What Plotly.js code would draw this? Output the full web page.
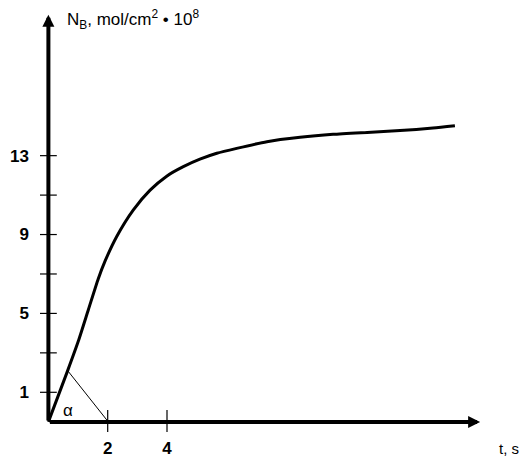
<!DOCTYPE html>
<html>
<head>
<meta charset="utf-8">
<script src="https://cdn.plot.ly/plotly-3.0.1.min.js"></script>
<style>html,body{margin:0;padding:0;background:#fff;}#chart{width:525px;height:457px;}</style>
</head>
<body>
<div id="chart"></div>
<script>
// Curve N_B(t)
const tValues = [0, 0.65, 1.01, 1.35, 1.68, 1.91, 2.30, 2.86, 3.43, 3.99, 4.55, 5.11, 5.68, 6.35, 7.37, 8.49, 9.60, 10.75, 11.86, 12.97, 13.71];
const nValues = [-0.5, 2.10, 3.60, 5.20, 6.75, 7.65, 8.89, 10.24, 11.25, 11.96, 12.44, 12.82, 13.12, 13.37, 13.71, 13.93, 14.08, 14.18, 14.27, 14.40, 14.52];
// Line drawn from the curve to the t axis (angle alpha)
const alphaT = [0.65, 2.02];
const alphaN = [2.10, -0.5];
// Axes
const originT = 0, originN = -0.5;
const xAxisEnd = 14.56, yAxisEnd = 20.15;
// Ticks
const yTickLabels = [1, 5, 9, 13];
const yTickMarks = [1, 3, 5, 7, 9, 11, 13];
const xTickLabels = [2, 4];
const xTickMarks = [2, 4];
const yTitle = 'N<sub>B</sub>, mol/cm<sup>2</sup> • 10<sup>8</sup>';
const xTitle = 't, s';
const alphaLabel = 'α';

const FONT = 'Liberation Sans, Arial, sans-serif';

const traces = [
  {x: tValues, y: nValues, mode: 'lines', line: {color: '#000', width: 3, shape: 'spline', smoothing: 0.6}, hoverinfo: 'skip'},
  {x: alphaT, y: alphaN, mode: 'lines', line: {color: '#000', width: 1}, hoverinfo: 'skip'},
  {x: yTickMarks.map(() => originT), y: yTickMarks, mode: 'markers',
   marker: {symbol: 'line-ew', size: 12, line: {width: 1.2, color: '#000'}}, hoverinfo: 'skip'},
  {x: xTickMarks, y: xTickMarks.map(() => originN), mode: 'markers',
   marker: {symbol: 'line-ns', size: 17, line: {width: 1.2, color: '#000'}}, hoverinfo: 'skip'}
];

const layout = {
  width: 525, height: 457,
  margin: {l: 30, r: 15, t: 10, b: 25},
  paper_bgcolor: '#fff', plot_bgcolor: '#fff',
  showlegend: false,
  xaxis: {range: [-0.6206, 15.568], showgrid: false, zeroline: false, showline: false,
          tickvals: xTickLabels, ticktext: xTickLabels.map(String), ticks: '', ticklabelstandoff: 4,
          tickfont: {family: FONT, size: 17, color: '#000', weight: 'bold'}},
  yaxis: {range: [-1.013, 20.386], showgrid: false, zeroline: false, showline: false,
          tickvals: yTickLabels, ticktext: yTickLabels.map(String), ticks: '',
          tickfont: {family: FONT, size: 17, color: '#000', weight: 'bold'}},
  annotations: [
    {x: xAxisEnd, y: originN, ax: originT, ay: originN, axref: 'x', ayref: 'y', xref: 'x', yref: 'y',
     text: '', showarrow: true, arrowhead: 2, arrowwidth: 4, arrowsize: 0.6, arrowcolor: '#000', standoff: 0},
    {x: originT, y: yAxisEnd, ax: originT, ay: originN, axref: 'x', ayref: 'y', xref: 'x', yref: 'y',
     text: '', showarrow: true, arrowhead: 2, arrowwidth: 4, arrowsize: 0.6, arrowcolor: '#000', standoff: 0},
    {x: 0.57, y: 19.9, xref: 'x', yref: 'y', xanchor: 'left', yanchor: 'middle', showarrow: false,
     text: yTitle, font: {family: FONT, size: 17, color: '#000'}},
    {x: 0.972, y: -0.038, xref: 'paper', yref: 'paper', xanchor: 'left', yanchor: 'middle', showarrow: false,
     text: xTitle, font: {family: FONT, size: 15, color: '#000'}},
    {x: 0.66, y: 0.1, xref: 'x', yref: 'y', xanchor: 'center', yanchor: 'middle', showarrow: false,
     text: alphaLabel, font: {family: FONT, size: 17, color: '#000'}}
  ]
};

Plotly.newPlot('chart', traces, layout, {displayModeBar: false, staticPlot: true});
</script>
</body>
</html>
